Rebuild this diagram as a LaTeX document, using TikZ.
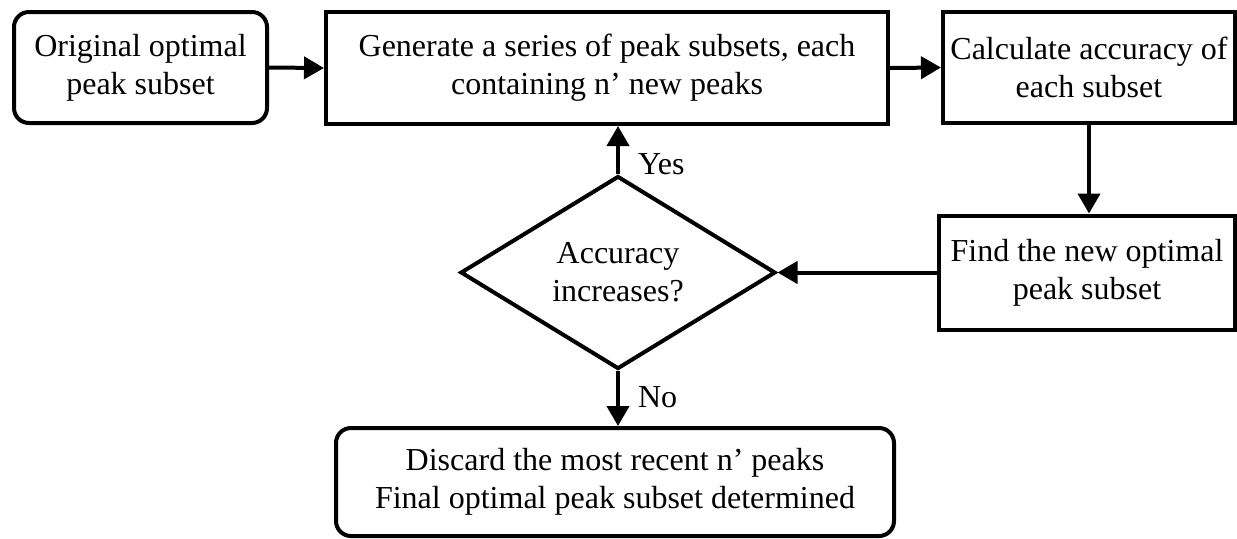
\documentclass[tikz,border=0pt]{standalone}
\usepackage{fontspec}
\setmainfont{Liberation Serif}
\usepackage{tikz}
\usetikzlibrary{arrows.meta,shapes.geometric}

\begin{document}
\begin{tikzpicture}[
  x=0.5pt, y=-0.5pt,
  box/.style={draw, line width=2pt, align=center, inner sep=0pt, font=\fontsize{16pt}{19pt}\selectfont},
  rbox/.style={box, rounded corners=7.5pt},
  dec/.style={box, diamond, aspect=1.63},
  arr/.style={-{Triangle[length=10pt,width=11pt]}, line width=2pt},
  lbl/.style={font=\fontsize{16pt}{19pt}\selectfont, inner sep=0pt, anchor=west}
]
\useasboundingbox (0,0) rectangle (1237,538);
% ---- top row
\node[rbox, minimum width=126.5pt, minimum height=55.5pt] (orig) at (140.5,67.5) {Original optimal\\peak subset};
\node[box, minimum width=281pt, minimum height=56pt] (gen) at (607,68) {Generate a series of peak subsets, each\\containing n' new peaks};
\node[box, minimum width=146pt, minimum height=55.5pt] (calc) at (1089,67.5) {Calculate accuracy of\\each subset};
% ---- right column and decision
\node[box, minimum width=148pt, minimum height=57pt] (find) at (1087,272.5) {Find the new optimal\\peak subset};
\node[dec, minimum width=157.5pt, minimum height=96.5pt] (dia) at (618,272.5) {Accuracy\\increases?};
% ---- result
\node[rbox, minimum width=279pt, minimum height=54pt] (final) at (615,482) {Discard the most recent n' peaks\\Final optimal peak subset determined};
% ---- connectors
\draw[arr] (orig.east) -- (gen.west);
\draw[arr] (gen.east) -- (calc.west);
\draw[arr] (calc.south) -- (calc.south |- find.north);
\draw[arr] (find.west) -- (dia.east);
\draw[arr] (dia.north) -- node[lbl, pos=0.2, xshift=9pt]{Yes} (dia.north |- gen.south);
\draw[arr] (dia.south) -- node[lbl, pos=0.47, xshift=9pt]{No} (dia.south |- final.north);
\end{tikzpicture}
\end{document}
